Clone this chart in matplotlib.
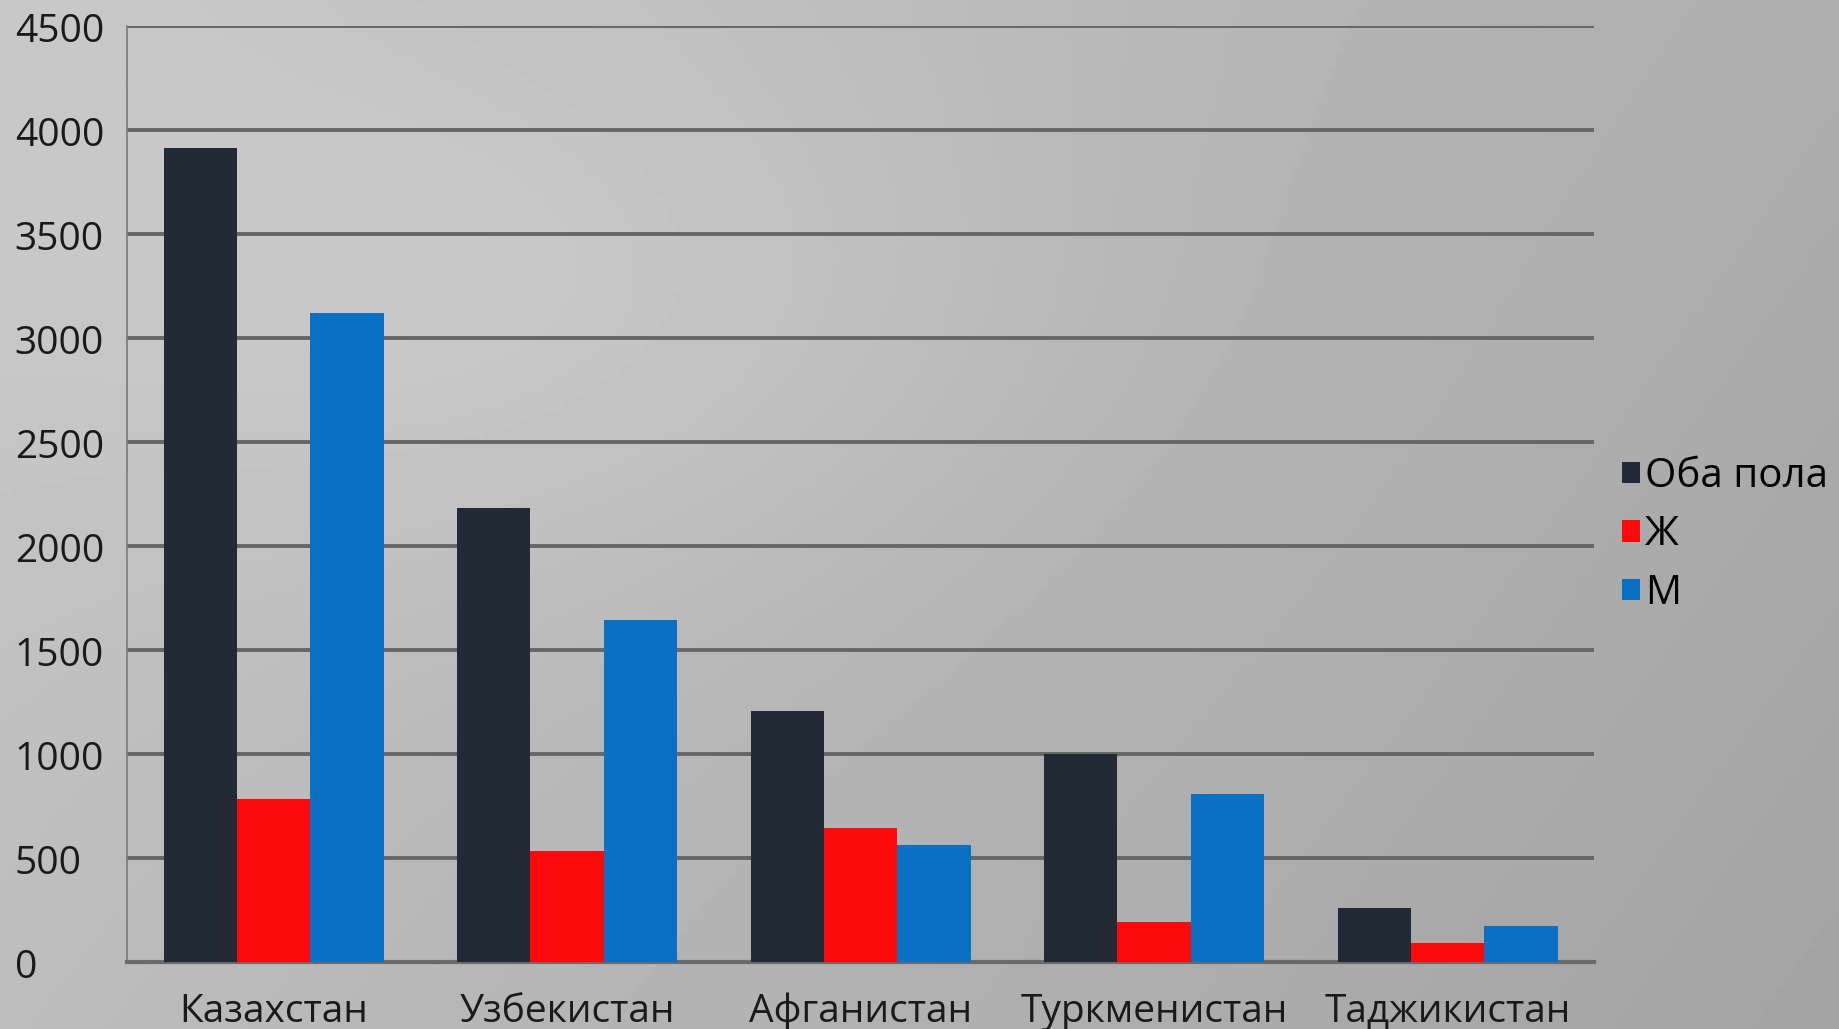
import numpy as np
import matplotlib.pyplot as plt
from matplotlib.transforms import blended_transform_factory

# Данные
strany = ["Казахстан", "Узбекистан", "Афганистан", "Туркменистан", "Таджикистан"]
oba_pola = [3910, 2180, 1205, 1000, 259]
zhenshchiny = [785, 535, 643, 192, 90]
muzhchiny = [3120, 1645, 564, 806, 175]

serii = ["Оба пола", "Ж", "М"]
cveta = ["#222a35", "#fa0a0a", "#0a70c4"]

plt.rcParams['font.family'] = ['Open Sans', 'DejaVu Sans']

fig = plt.figure(figsize=(18.39, 10.29), dpi=100)

# Фон - серый градиент
bg = fig.add_axes([0, 0, 1, 1])
gx = np.linspace(0, 1, 300)
gy = np.linspace(0, 1, 200)
X, Y = np.meshgrid(gx, gy)
grad = 0.78 - 0.10 * X - 0.04 * Y + 0.04 * np.exp(-((X - 0.3) ** 2 + (Y - 0.3) ** 2) / 0.08)
bg.imshow(grad, cmap='gray', vmin=0, vmax=1, aspect='auto', extent=[0, 1, 0, 1])
bg.axis('off')

ax = fig.add_axes([0.069, 0.065, 0.798, 0.91])
ax.set_facecolor('none')

x = np.arange(len(strany))
w = 0.25
for i, (vals, name, c) in enumerate(zip([oba_pola, zhenshchiny, muzhchiny], serii, cveta)):
    ax.bar(x + (i - 1) * w, vals, width=w, color=c, label=name, zorder=3)

ax.set_xlim(-0.5, 4.5)
ax.set_ylim(0, 4500)
ax.set_yticks(np.arange(0, 4501, 500))
ax.grid(axis='y', color='#666666', linewidth=2.8, zorder=0)
ax.tick_params(axis='y', length=0, labelleft=False)
ax.tick_params(axis='x', length=0, labelsize=28, pad=22, colors='#1a1a1a')
ax.set_xticks(x)
ax.set_xticklabels(strany)

for s in ['top', 'right']:
    ax.spines[s].set_visible(False)
ax.spines['left'].set_color('#7a7a7a')
ax.spines['left'].set_linewidth(1.2)
ax.spines['bottom'].set_color('#6a6a6a')
ax.spines['bottom'].set_linewidth(3)

# подписи оси Y слева
tr = blended_transform_factory(fig.transFigure, ax.transData)
for v in np.arange(0, 4501, 500):
    ax.text(0.008, v - 30, str(v), transform=tr, ha='left', va='center',
            fontsize=28, color='#1a1a1a')

leg = ax.legend(loc='center left', bbox_to_anchor=(1.008, 0.456), frameon=False,
                fontsize=29, handlelength=0.45, handleheight=0.45, handletextpad=0.12,
                labelspacing=0.45, borderaxespad=0)

plt.savefig("out.png", dpi=100)
